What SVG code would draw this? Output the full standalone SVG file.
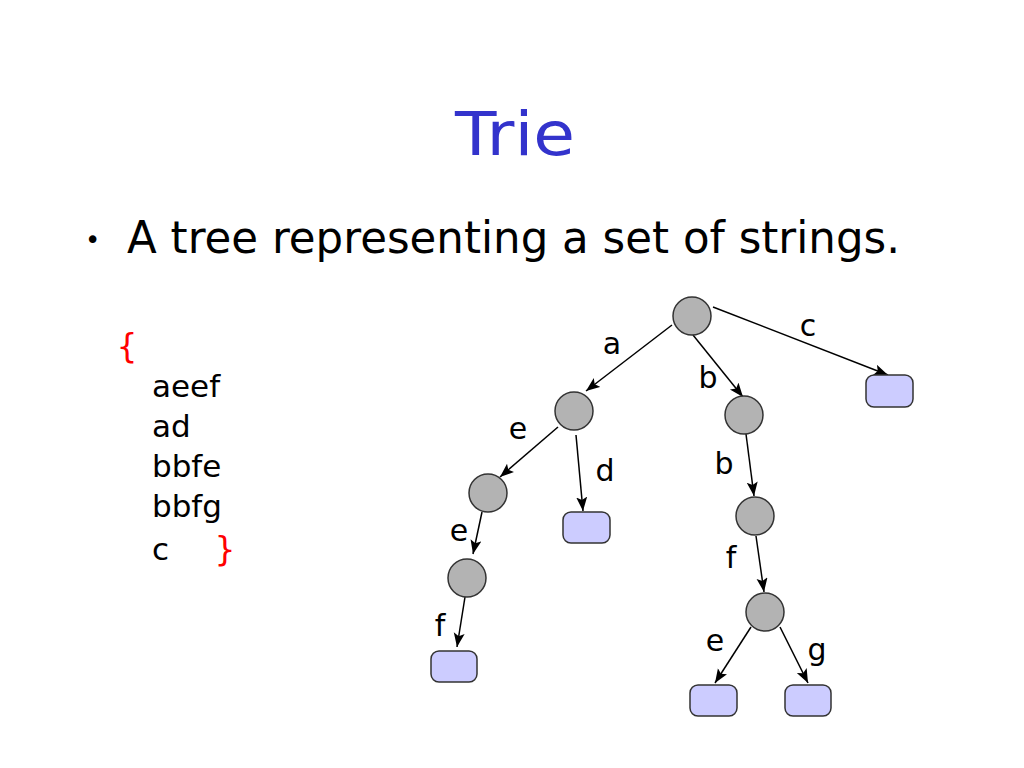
<svg xmlns="http://www.w3.org/2000/svg" width="1024" height="768" viewBox="0 0 1024 768">
<style>
  text { font-family: "DejaVu Sans", "Liberation Sans", sans-serif; fill: #000; }
  .title { font-size: 60px; fill: #3333CC; }
  .bullet { font-size: 44px; }
  .dot { font-size: 26px; }
  .list { font-size: 31px; }
  .brace { font-size: 33px; fill: #FF0000; }
  .lbl { font-size: 30px; text-anchor: middle; }
  .inner { fill: #B3B3B3; stroke: #333333; stroke-width: 1.5; }
  .leaf { fill: #CCCCFF; stroke: #333333; stroke-width: 1.5; }
  .edge { stroke: #000; stroke-width: 1.5; fill: none; marker-end: url(#arrow); }
</style>
<defs>
  <marker id="arrow" markerUnits="userSpaceOnUse" markerWidth="15" markerHeight="12" refX="14" refY="5.5" orient="auto">
    <path d="M0,0 L14,5.5 L0,11 L3,5.5 z" fill="#000"/>
  </marker>
</defs>
<rect width="1024" height="768" fill="#FFFFFF"/>

<text class="title" x="455" y="155" textLength="120" lengthAdjust="spacingAndGlyphs">Trie</text>
<text class="dot" x="85" y="249">•</text>
<text class="bullet" x="127" y="253" textLength="773" lengthAdjust="spacingAndGlyphs">A tree representing a set of strings.</text>

<g id="string-set">
  <text class="brace" x="127" y="358" text-anchor="middle">{</text>
  <text class="list" x="152" y="397">aeef</text>
  <text class="list" x="152" y="437">ad</text>
  <text class="list" x="152" y="477">bbfe</text>
  <text class="list" x="152" y="517">bbfg</text>
  <text class="list" x="152" y="560">c</text>
  <text class="brace" x="225" y="561" text-anchor="middle">}</text>
</g>

<g id="connectors">
  <line class="edge" x1="672" y1="325" x2="586" y2="391"/>
  <line class="edge" x1="558" y1="427" x2="500" y2="477"/>
  <line class="edge" x1="576" y1="435" x2="583" y2="511"/>
  <line class="edge" x1="482" y1="512" x2="473" y2="554"/>
  <line class="edge" x1="465" y1="597" x2="457" y2="647"/>
  <line class="edge" x1="693" y1="335" x2="743" y2="397"/>
  <line class="edge" x1="713" y1="307" x2="888" y2="375"/>
  <line class="edge" x1="746" y1="434" x2="754" y2="496"/>
  <line class="edge" x1="756" y1="536" x2="764" y2="592"/>
  <line class="edge" x1="751" y1="627" x2="715" y2="683"/>
  <line class="edge" x1="780" y1="627" x2="808" y2="683"/>
</g>

<g id="edge-labels">
  <text class="lbl" x="612" y="354">a</text>
  <text class="lbl" x="708" y="388">b</text>
  <text class="lbl" x="808" y="336">c</text>
  <text class="lbl" x="518" y="439">e</text>
  <text class="lbl" x="605" y="481">d</text>
  <text class="lbl" x="724" y="474">b</text>
  <text class="lbl" x="459" y="541">e</text>
  <text class="lbl" x="440" y="636">f</text>
  <text class="lbl" x="731" y="568">f</text>
  <text class="lbl" x="715" y="651">e</text>
  <text class="lbl" x="817" y="660">g</text>
</g>

<g id="node-root"><circle class="inner" cx="692" cy="316" r="19"/></g>
<g id="node-a"><circle class="inner" cx="574" cy="411" r="19"/></g>
<g id="node-ae"><circle class="inner" cx="488" cy="493" r="19"/></g>
<g id="node-aee"><circle class="inner" cx="467" cy="578" r="19"/></g>
<g id="node-b"><circle class="inner" cx="744" cy="415" r="19"/></g>
<g id="node-bb"><circle class="inner" cx="755" cy="516" r="19"/></g>
<g id="node-bbf"><circle class="inner" cx="765" cy="612" r="19"/></g>

<g id="leaf-aeef"><rect class="leaf" x="431" y="651" width="46" height="31" rx="8"/></g>
<g id="leaf-ad"><rect class="leaf" x="563" y="512" width="47" height="31" rx="8"/></g>
<g id="leaf-bbfe"><rect class="leaf" x="690" y="685" width="47" height="31" rx="8"/></g>
<g id="leaf-bbfg"><rect class="leaf" x="785" y="685" width="46" height="31" rx="8"/></g>
<g id="leaf-c"><rect class="leaf" x="866" y="375" width="47" height="32" rx="8"/></g>
</svg>
